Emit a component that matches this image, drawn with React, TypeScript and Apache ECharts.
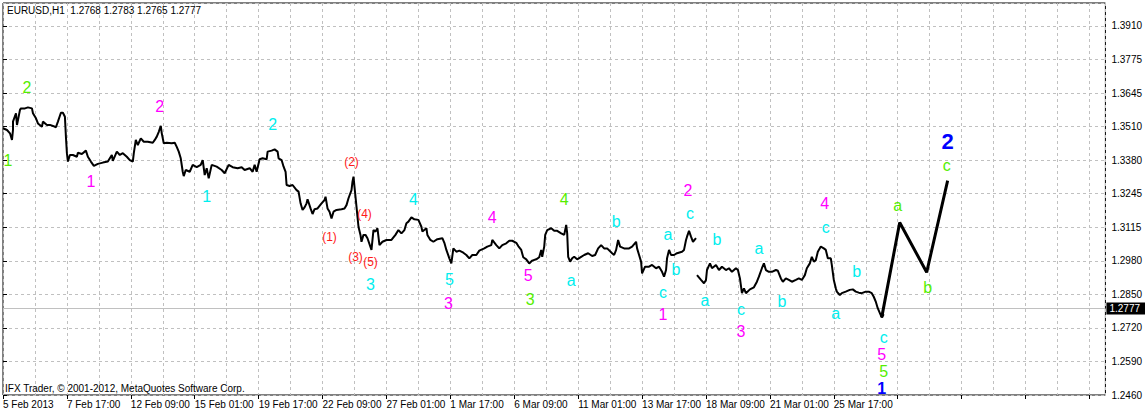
import React, { useEffect, useRef } from 'react';
import * as echarts from 'echarts';

const FONT = '"Liberation Sans", Arial, sans-serif';

const headerText = 'EURUSD,H1\u00a0 1.2768 1.2783 1.2765 1.2777';
const footerText = 'IFX Trader, \u00a9 2001-2012, MetaQuotes Software Corp.';

const yTickLabels = ['1.2460', '1.2590', '1.2720', '1.2850', '1.2980', '1.3115', '1.3245', '1.3380', '1.3510', '1.3645', '1.3775', '1.3910'];
const xTickLabels = ['5 Feb 2013', '7 Feb 17:00', '12 Feb 09:00', '15 Feb 01:00', '19 Feb 17:00', '22 Feb 09:00', '27 Feb 01:00', '1 Mar 17:00', '6 Mar 09:00', '11 Mar 01:00', '13 Mar 17:00', '18 Mar 09:00', '21 Mar 01:00', '25 Mar 17:00'];

const lastPrice = 1.2777;

// hourly bar index (one bar per pixel column) and close price
const priceBars = [
  0, 4, 7, 9, 10, 10, 13, 14, 15, 17, 18, 22, 25, 29, 30, 33, 35, 39, 40, 44, 47, 50, 53, 55, 58, 60, 62, 63, 64, 65, 67, 70, 74, 75, 79, 83, 85, 88, 91, 95, 100, 105, 109, 110, 114, 117, 120, 124, 127, 130, 131, 133, 135, 138, 141, 145, 150, 152, 154, 156, 158, 159, 161, 164, 169, 172, 174, 176, 178, 180, 181,
  183, 187, 190, 194, 198, 200, 202, 204, 206, 209, 214, 219, 222, 226, 230, 235, 239, 242, 247, 250, 252, 254, 257, 260, 264, 265, 269, 272, 275, 276, 279, 281, 283, 284, 287, 290, 294, 296, 298, 300, 302, 304, 305, 308, 310, 312, 315, 319, 322, 323, 325, 327, 329, 331, 334, 339, 342, 344, 346, 349, 350, 351, 352, 354, 355, 356, 358, 359, 361,
  363, 365, 369, 371, 373, 375, 377, 380, 384, 389, 393, 396, 399, 402, 404, 406, 409, 412, 416, 419, 420, 424, 425, 428, 431, 435, 440, 442, 444, 447, 449, 451, 454, 457, 461, 464, 467, 470, 474, 477, 482, 485, 489, 490, 494, 497, 500, 504, 507, 510, 514, 516, 519, 521, 524, 527, 530, 534, 537, 539,
  540, 542, 543, 545, 549, 552, 555, 559, 562, 564, 565, 566, 568, 570, 572, 575, 579, 582, 586, 590, 593, 596, 599, 602, 605, 610, 612, 614, 616, 618, 622, 627, 630, 634, 635, 637, 639, 640, 643, 647, 650, 654, 657, 660, 662, 664, 665, 667, 669, 672, 675, 680, 682, 684, 685, 687, 689, 691, 694,
  694.5,
  695, 699, 702, 704, 705, 708, 710, 714, 717, 720, 724, 727, 730, 734, 736, 738, 740, 742, 744, 748, 752, 755, 757, 760, 762, 764, 767, 770, 774, 776, 779, 781, 784, 787, 790, 794, 797, 800, 803, 805, 808, 810, 812, 814, 816, 819, 822, 824, 826, 829, 830, 832, 834, 835, 838, 840, 844, 848, 851, 854, 857, 860, 864, 867, 870, 872, 874, 876, 879, 880, 882,
];
const priceClose: (number | null)[] = [
  1.3508, 1.3501, 1.3488, 1.3462, 1.3501, 1.3534, 1.3567, 1.3521, 1.3540, 1.3580, 1.3586, 1.3586, 1.3590, 1.3586, 1.3567, 1.3547, 1.3527, 1.3514, 1.3534, 1.3521, 1.3521, 1.3517, 1.3512, 1.3534, 1.3569, 1.3569, 1.3553, 1.3475, 1.3410, 1.3377, 1.3403, 1.3403, 1.3396, 1.3412, 1.3407, 1.3420, 1.3396, 1.3377, 1.3360, 1.3368, 1.3373, 1.3377, 1.3403, 1.3380, 1.3416, 1.3403, 1.3410, 1.3396, 1.3383, 1.3377, 1.3410, 1.3462, 1.3442, 1.3468, 1.3455, 1.3455, 1.3451, 1.3462, 1.3475, 1.3494, 1.3517, 1.3488, 1.3449, 1.3451, 1.3449, 1.3451, 1.3435, 1.3416, 1.3390, 1.3337, 1.3320,
  1.3344, 1.3337, 1.3364, 1.3355, 1.3364, 1.3383, 1.3324, 1.3351, 1.3311, 1.3364, 1.3357, 1.3344, 1.3331, 1.3364, 1.3355, 1.3351, 1.3355, 1.3344, 1.3351, 1.3337, 1.3364, 1.3337, 1.3386, 1.3390, 1.3386, 1.3416, 1.3420, 1.3425, 1.3416, 1.3390, 1.3383, 1.3357, 1.3337, 1.3285, 1.3281, 1.3285, 1.3265, 1.3259, 1.3213, 1.3187, 1.3197, 1.3213, 1.3229, 1.3193, 1.3171, 1.3190, 1.3193, 1.3213, 1.3226, 1.3239, 1.3193, 1.3180, 1.3154, 1.3180, 1.3187, 1.3190, 1.3193, 1.3206, 1.3233, 1.3265, 1.3298, 1.3318, 1.3278, 1.3200, 1.3160, 1.3121, 1.3089, 1.3062, 1.3089,
  1.3089, 1.3076, 1.3030, 1.3108, 1.3102, 1.3115, 1.3049, 1.3062, 1.3069, 1.3069, 1.3089, 1.3108, 1.3095, 1.3108, 1.3135, 1.3141, 1.3158, 1.3150, 1.3148, 1.3121, 1.3102, 1.3115, 1.3089, 1.3069, 1.3062, 1.3072, 1.3076, 1.3058, 1.3030, 1.2997, 1.2977, 1.3036, 1.3023, 1.3027, 1.3019, 1.3010, 1.2997, 1.3010, 1.3010, 1.3027, 1.3036, 1.3043, 1.3049, 1.3069, 1.3049, 1.3036, 1.3049, 1.3056, 1.3066, 1.3066, 1.3058, 1.3045, 1.3030, 1.3001, 1.2993, 1.2977, 1.2988, 1.2993, 1.3001, 1.3030,
  1.3003, 1.3043, 1.3089, 1.3108, 1.3115, 1.3105, 1.3105, 1.3095, 1.3089, 1.3128, 1.3095, 1.3003, 1.2984, 1.2997, 1.3003, 1.2993, 1.3003, 1.3010, 1.3017, 1.3006, 1.3010, 1.3036, 1.3049, 1.3036, 1.3036, 1.3017, 1.3010, 1.3030, 1.3069, 1.3043, 1.3036, 1.3036, 1.3043, 1.3062, 1.3036, 1.3010, 1.2984, 1.2938, 1.2964, 1.2964, 1.2971, 1.2958, 1.2964, 1.2944, 1.2925, 1.2951, 1.2997, 1.3030, 1.3010, 1.3010, 1.3017, 1.3023, 1.3030, 1.3069, 1.3082, 1.3105, 1.3082, 1.3062, 1.3076,
  null,
  1.2931, 1.2912, 1.2899, 1.2912, 1.2951, 1.2977, 1.2958, 1.2971, 1.2951, 1.2964, 1.2951, 1.2958, 1.2944, 1.2958, 1.2951, 1.2918, 1.2860, 1.2879, 1.2860, 1.2875, 1.2883, 1.2905, 1.2925, 1.2958, 1.2977, 1.2951, 1.2944, 1.2944, 1.2951, 1.2948, 1.2918, 1.2905, 1.2918, 1.2912, 1.2905, 1.2912, 1.2918, 1.2912, 1.2931, 1.2958, 1.2977, 1.3003, 1.2984, 1.2990, 1.3023, 1.3043, 1.3036, 1.3030, 1.2997, 1.2997, 1.2971, 1.2912, 1.2879, 1.2866, 1.2853, 1.2860, 1.2866, 1.2873, 1.2875, 1.2866, 1.2862, 1.2860, 1.2866, 1.2866, 1.2860, 1.2846, 1.2827, 1.2801, 1.2774, 1.2765, 1.2777,
];

// projected wave path (a-b-c)
const projBars = [880, 898, 925, 946];
const projPrice = [1.2765, 1.3138, 1.2942, 1.3302];

// wave labels
const waveText = ['1', '2', '1', '2', '1', '2', '(1)', '(2)', '(4)', '(3)', '(5)', '3', '4', '5', '3', '4', '5', '3', '4', 'a', 'b', 'a', 'b', 'c', '1', '2', 'c', 'b', 'a', 'a', 'c', '3', 'b', '4', 'c', 'b', 'a', 'c', '5', '5', '1', 'a', 'b', 'c', '2'];
const waveDegree = ['G', 'G', 'M', 'M', 'C', 'C', 'R', 'R', 'R', 'R', 'R', 'C', 'C', 'C', 'M', 'M', 'M', 'G', 'G', 'C', 'C', 'C', 'C', 'C', 'M', 'M', 'C', 'C', 'C', 'C', 'C', 'M', 'C', 'M', 'C', 'C', 'C', 'C', 'M', 'G', 'b', 'G', 'G', 'G', 'B'];
const waveBar = [5, 24, 88, 157, 204, 270, 327, 349, 362, 353, 368, 368, 411, 447, 446, 490, 526, 528, 562, 569, 614, 666, 674, 661, 661, 686, 688, 715, 703, 757, 739, 739, 780, 823, 824, 855, 834, 882, 880, 882, 880, 896, 926, 945, 946];
const wavePrice = [1.3383, 1.3670, 1.3297, 1.3592, 1.3239, 1.3521, 1.3082, 1.3376, 1.3170, 1.3004, 1.2981, 1.2896, 1.3230, 1.2915, 1.2820, 1.3158, 1.2929, 1.2836, 1.3230, 1.2908, 1.3141, 1.3089, 1.2954, 1.2862, 1.2778, 1.3265, 1.3172, 1.3072, 1.2833, 1.3036, 1.2794, 1.2709, 1.2829, 1.3213, 1.3119, 1.2944, 1.2781, 1.2685, 1.2621, 1.2553, 1.2484, 1.3206, 1.2883, 1.3363, 1.3455];

const degreeStyle: Record<string, { color: string; size: number; weight: string }> = {
  G: { color: '#55ee00', size: 16, weight: 'normal' },
  M: { color: '#ff00ff', size: 16, weight: 'normal' },
  C: { color: '#00eeee', size: 16, weight: 'normal' },
  R: { color: '#ff1a1a', size: 12, weight: 'normal' },
  B: { color: '#0000ff', size: 22, weight: 'bold' },
  b: { color: '#0000ff', size: 16, weight: 'bold' },
};

const Y_MIN = 1.246;
const Y_MAX = 1.4;
const Y_STEP = 0.145 / 11;

export default function App() {
  const ref = useRef<HTMLDivElement>(null);

  useEffect(() => {
    if (!ref.current) return;
    const chart = echarts.init(ref.current, undefined, { renderer: 'svg' });

    const grid = '#c0c0c0';
    const dashed = { color: grid, type: [3, 3] as any, width: 1 };

    const option: any = {
      animation: false,
      backgroundColor: '#ffffff',
      textStyle: { fontFamily: FONT },
      grid: {
        left: 3,
        right: 38,
        top: 3,
        bottom: 18,
        show: true,
        borderColor: '#000000',
        borderWidth: 1,
        backgroundColor: '#ffffff',
        containLabel: false,
      },
      xAxis: [
        {
          type: 'value',
          min: 0,
          max: 1104,
          interval: 32,
          position: 'bottom',
          axisLine: { show: false },
          axisTick: { show: false },
          axisLabel: { show: false },
          splitLine: { show: true, lineStyle: dashed },
        },
        {
          type: 'value',
          min: 0,
          max: 1104,
          interval: 64,
          position: 'bottom',
          axisLine: { show: false },
          axisTick: { show: true, length: 4, inside: false, lineStyle: { color: '#000' } },
          splitLine: { show: false },
          axisLabel: {
            show: true,
            margin: 4,
            align: 'left',
            fontSize: 10,
            fontFamily: FONT,
            color: '#000',
            showMaxLabel: false,
            formatter: (v: number) => {
              const i = Math.round(v / 64);
              return Math.abs(v - i * 64) < 0.01 && xTickLabels[i] ? xTickLabels[i] : '';
            },
          },
        },
      ],
      yAxis: {
        type: 'value',
        position: 'right',
        min: Y_MIN,
        max: Y_MAX,
        interval: Y_STEP,
        scale: true,
        axisLine: { show: false },
        axisTick: { show: true, length: 4, inside: false, lineStyle: { color: '#000' } },
        splitLine: { show: true, lineStyle: dashed },
        axisLabel: {
          show: true,
          margin: 6,
          fontSize: 10,
          fontFamily: FONT,
          color: '#000',
          showMaxLabel: false,
          formatter: (v: number) => {
            const i = Math.round((v - Y_MIN) / Y_STEP);
            return Math.abs(v - (Y_MIN + i * Y_STEP)) < 1e-6 && yTickLabels[i] ? yTickLabels[i] : '';
          },
        },
      },
      series: [
        {
          type: 'line',
          name: 'EURUSD',
          xAxisIndex: 0,
          data: priceBars.map((b, i) => [b, priceClose[i] === null ? '-' : priceClose[i]]),
          showSymbol: false,
          symbol: 'none',
          connectNulls: false,
          lineStyle: { color: '#000000', width: 2 },
          z: 3,
          markLine: {
            silent: true,
            symbol: ['none', 'none'],
            lineStyle: { color: '#c0c0c0', type: 'solid', width: 1 },
            label: {
              show: true,
              position: 'end',
              distance: 1,
              formatter: lastPrice.toFixed(4),
              color: '#ffffff',
              backgroundColor: '#000000',
              padding: [1, 8, 1, 3],
              fontSize: 10,
              fontFamily: FONT,
            },
            data: [{ yAxis: lastPrice }],
            z: 1,
          },
        },
        {
          type: 'line',
          name: 'projection',
          xAxisIndex: 0,
          data: projBars.map((b, i) => [b, projPrice[i]]),
          showSymbol: false,
          symbol: 'none',
          lineStyle: { color: '#000000', width: 3 },
          z: 4,
        },
        {
          type: 'custom',
          name: 'waves',
          xAxisIndex: 0,
          coordinateSystem: 'cartesian2d',
          clip: true,
          z: 5,
          data: waveBar.map((b, i) => [b, wavePrice[i]]),
          renderItem: (params: any, api: any) => {
            const i = params.dataIndex;
            const pt = api.coord([api.value(0), api.value(1)]);
            const st = degreeStyle[waveDegree[i]];
            return {
              type: 'text',
              x: pt[0],
              y: pt[1],
              style: {
                text: waveText[i],
                fill: st.color,
                fontSize: st.size,
                fontWeight: st.weight,
                fontFamily: FONT,
                align: 'center',
                verticalAlign: 'middle',
              },
            };
          },
        },
      ],
      graphic: [
        {
          type: 'text',
          left: 7,
          top: 5,
          z: 10,
          style: { text: headerText, fill: '#000', fontSize: 10, fontFamily: FONT },
        },
        {
          type: 'text',
          left: 5,
          top: 383,
          z: 10,
          style: { text: footerText, fill: '#000', fontSize: 10, fontFamily: FONT },
        },
      ],
    };

    chart.setOption(option);
    return () => chart.dispose();
  }, []);

  return (
    <div
      ref={ref}
      style={{ position: 'fixed', left: 0, top: 0, width: 1145, height: 413, background: '#fff' }}
    />
  );
}
